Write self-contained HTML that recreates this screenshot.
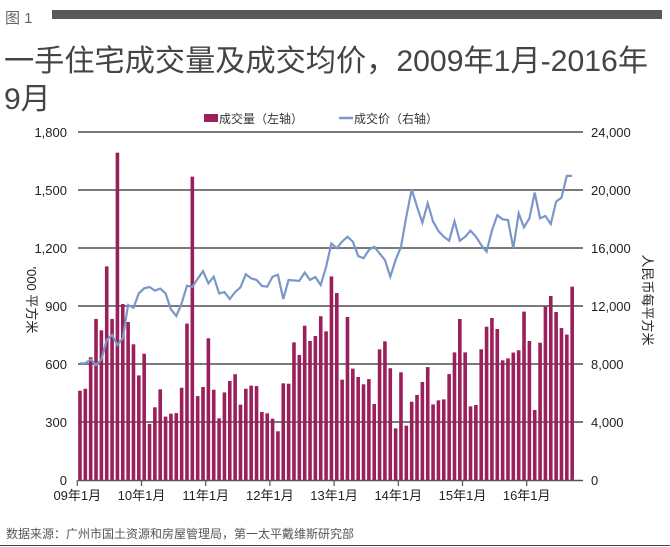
<!DOCTYPE html>
<html><head><meta charset="utf-8"><style>
body{margin:0;background:#fff;width:670px;height:547px;overflow:hidden;font-family:"Liberation Sans","Noto Sans CJK SC",sans-serif;}
</style></head><body>
<svg width="670" height="547" style="position:absolute;left:0;top:0;font-family:'Liberation Sans','Noto Sans CJK SC',sans-serif">
<text x="5" y="23" font-size="15" fill="#666">图 1</text>
<rect x="52" y="10" width="610" height="9" fill="#595959"/>
<text x="4" y="71" font-size="30" fill="#444" textLength="644" lengthAdjust="spacingAndGlyphs">一手住宅成交量及成交均价，2009年1月-2016年</text>
<text x="4" y="109" font-size="30" fill="#444">9月</text>
<g id="grid"></g>
<g id="bars"></g>
<path id="line" fill="none" stroke="#7b97c8" stroke-width="2.2"/>
<g id="axes" font-size="13" fill="#222"></g>
<rect x="190" y="110" width="258" height="18" fill="#fff"/>
<g font-size="12" fill="#333">
<rect x="204" y="114" width="14" height="8" fill="#9b1f5a"/>
<text x="219" y="123">成交量（左轴）</text>
<line x1="339" y1="118" x2="353" y2="118" stroke="#7b97c8" stroke-width="2.5"/>
<text x="354" y="123">成交价（右轴）</text>
</g>
<text transform="translate(27,300) rotate(90)" font-size="13" fill="#222" text-anchor="middle">'000 平方米</text>
<text transform="translate(643,300) rotate(90)" font-size="13" fill="#222" text-anchor="middle">人民币每平方米</text>
<text x="6" y="538" font-size="12" fill="#555">数据来源：广州市国土资源和房屋管理局，第一太平戴维斯研究部</text>
<line x1="0" y1="545.5" x2="670" y2="545.5" stroke="#444" stroke-width="1"/>
</svg>
<script>
const volume=[462,472,635,833,774,1105,833,1693,910,817,702,541,653,290,376,469,328,343,346,477,809,1569,434,481,733,467,319,453,512,547,390,472,488,486,352,345,317,252,500,498,712,647,798,719,745,847,769,1053,967,519,843,576,533,495,522,393,676,717,578,267,557,281,405,440,507,584,391,412,417,548,660,833,660,381,388,676,793,838,781,619,629,659,671,871,719,362,710,898,952,869,786,752,1000];
const price=[8050,8050,8320,7930,8300,9655,10000,9310,9770,12070,11880,12870,13220,13310,13060,13200,12870,11770,11310,12180,13400,13310,13880,14410,13560,14020,12870,12960,12480,12960,13290,14190,13900,13800,13380,13330,14020,14160,12480,13800,13760,13740,14300,13800,14000,13450,14700,16320,15980,16440,16780,16440,15450,15290,15860,16090,15630,15170,14020,15170,16090,18160,20050,18850,17750,19080,17820,17170,16780,16500,17840,16500,16780,17190,16780,16210,15750,17190,18260,17980,17930,15980,18390,17430,18050,19820,18050,18210,17660,19200,19470,20970,20970];
const leftTicks=[0,300,600,900,1200,1500,1800];
const rightTicks=[0,4000,8000,12000,16000,20000,24000];
const xLabels=["09年1月","10年1月","11年1月","12年1月","13年1月","14年1月","15年1月","16年1月"];
const X0=77.3,MW=5.35,Y0=480,H=348;
const yL=v=>Y0-v/1800*H, yR=v=>Y0-v/24000*H, xC=i=>X0+(i+0.5)*MW;
const ns="http://www.w3.org/2000/svg";
function mk(t,a,p){const e=document.createElementNS(ns,t);for(const k in a)e.setAttribute(k,a[k]);p.appendChild(e);return e;}
const grid=document.getElementById('grid'),bars=document.getElementById('bars'),axes=document.getElementById('axes');
leftTicks.forEach((v,i)=>{if(v===0)return;const l=mk('line',{x1:78,x2:583,y1:yL(v),y2:yL(v),stroke:'#7a7a7a','stroke-width':2},grid);

});
volume.forEach((v,i)=>{const r=mk('rect',{x:xC(i)-1.8,y:yL(v),width:3.6,height:Y0-yL(v),fill:'#9b1f5a'},bars);

});
document.getElementById('line').setAttribute('d',price.map((v,i)=>(i?'L':'M')+xC(i).toFixed(1)+','+yR(v).toFixed(1)).join(''));
const ax=mk('line',{x1:78,x2:583,y1:480.5,y2:480.5,stroke:'#555','stroke-width':1.5},axes);


leftTicks.forEach(v=>{const t=mk('text',{x:67,y:yL(v)+5,'text-anchor':'end'},axes);t.textContent=v.toLocaleString('en-US');

});
rightTicks.forEach(v=>{const t=mk('text',{x:591,y:yR(v)+5},axes);t.textContent=v.toLocaleString('en-US');

});
xLabels.forEach((s,i)=>{const x=X0+i*12*MW;const tk=mk('line',{x1:x,x2:x,y1:480,y2:486,stroke:'#555','stroke-width':1.2},axes);


const t=mk('text',{x:x,y:500,'text-anchor':'middle'},axes);t.textContent=s;

});
</script>
</body></html>
